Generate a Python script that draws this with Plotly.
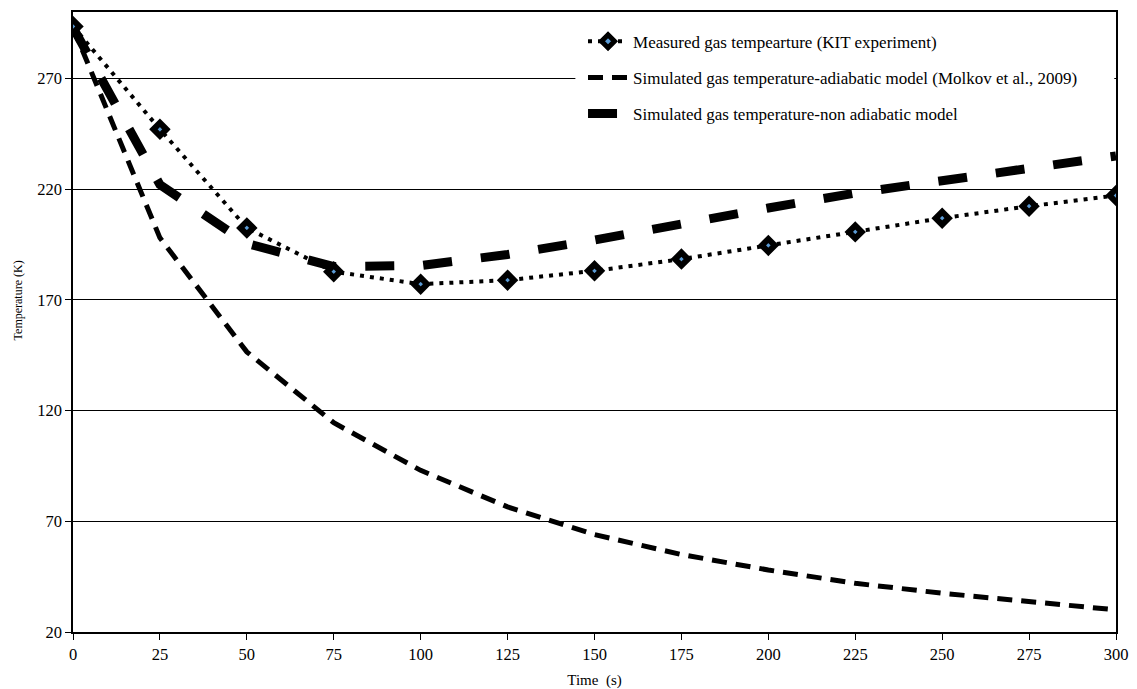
import plotly.graph_objects as go

time_s = [0, 25, 50, 75, 100, 125, 150, 175, 200, 225, 250, 275, 300]
measured = [293.5, 247, 202.5, 182.7, 177.1, 178.9, 183.1, 188.4, 194.6, 200.7, 206.9, 212.3, 217.1]
adiabatic = [293, 198, 146.5, 114.5, 93, 76.5, 64, 55, 48, 42, 37.5, 33.5, 30]
non_adiabatic = [293, 222, 195.5, 185, 185.5, 190.5, 197, 204.5, 211.5, 218.2, 224, 230.2, 235]

y_ticks = [20, 70, 120, 170, 220, 270]
x_ticks = [0, 25, 50, 75, 100, 125, 150, 175, 200, 225, 250, 275, 300]

FONT = "Liberation Serif, Times New Roman, serif"

fig = go.Figure()

fig.add_trace(go.Scatter(
    x=time_s, y=non_adiabatic, mode="lines",
    name="Simulated gas temperature-non adiabatic model",
    line=dict(color="black", width=9, dash="29px,29px"),
    legendgroup="c", legendrank=3,
))
fig.add_trace(go.Scatter(
    x=time_s, y=adiabatic, mode="lines",
    name="Simulated gas temperature-adiabatic model (Molkov et al., 2009)",
    line=dict(color="black", width=5, dash="15px,9px"),
    legendgroup="b", legendrank=2,
))
fig.add_trace(go.Scatter(
    x=time_s, y=measured, mode="lines+markers",
    name="Measured gas tempearture (KIT experiment)",
    line=dict(color="black", width=4, dash="4px,6px"),
    marker=dict(symbol="diamond", size=10, color="#5B9BD5",
                line=dict(color="black", width=6)),
    legendgroup="a", legendrank=1,
))

# white area behind the legend (covers the grid line, like the original)
fig.add_shape(type="rect", xref="x", yref="y", x0=144.5, x1=299.5, y0=246.5, y1=299.5,
              fillcolor="white", line=dict(width=0), layer="between")

fig.add_annotation(
    text="Temperature (K)", textangle=-90, showarrow=False,
    xref="paper", yref="paper", x=-0.0532, y=0.534,
    xanchor="center", yanchor="middle",
    font=dict(family=FONT, size=12, color="black"),
)

fig.update_layout(
    width=1129, height=681,
    margin=dict(l=65, r=21, t=2, b=57),
    paper_bgcolor="white", plot_bgcolor="white",
    font=dict(family=FONT, size=16, color="black"),
    showlegend=True,
    legend=dict(
        x=0.489, y=0.981, xanchor="left", yanchor="top",
        bgcolor="white", borderwidth=0,
        font=dict(family=FONT, size=17, color="black"),
        tracegroupgap=11, traceorder="grouped",
        itemwidth=40,
    ),
    xaxis=dict(
        range=[0, 300], tickvals=x_ticks,
        showgrid=False, zeroline=False,
        showline=True, linecolor="black", linewidth=1.5, mirror=True,
        ticks="outside", ticklen=6, tickcolor="black",
        tickfont=dict(family=FONT, size=16.5),
        title=dict(text="Time  (s)", font=dict(family=FONT, size=15), standoff=12),
    ),
    yaxis=dict(
        range=[20, 300], tickvals=y_ticks,
        showgrid=True, gridcolor="black", gridwidth=1,
        zeroline=False,
        showline=True, linecolor="black", linewidth=1.5, mirror=True,
        ticks="outside", ticklen=6, tickcolor="black",
        tickfont=dict(family=FONT, size=16.5),
    ),
)

fig.write_html("out.html")
